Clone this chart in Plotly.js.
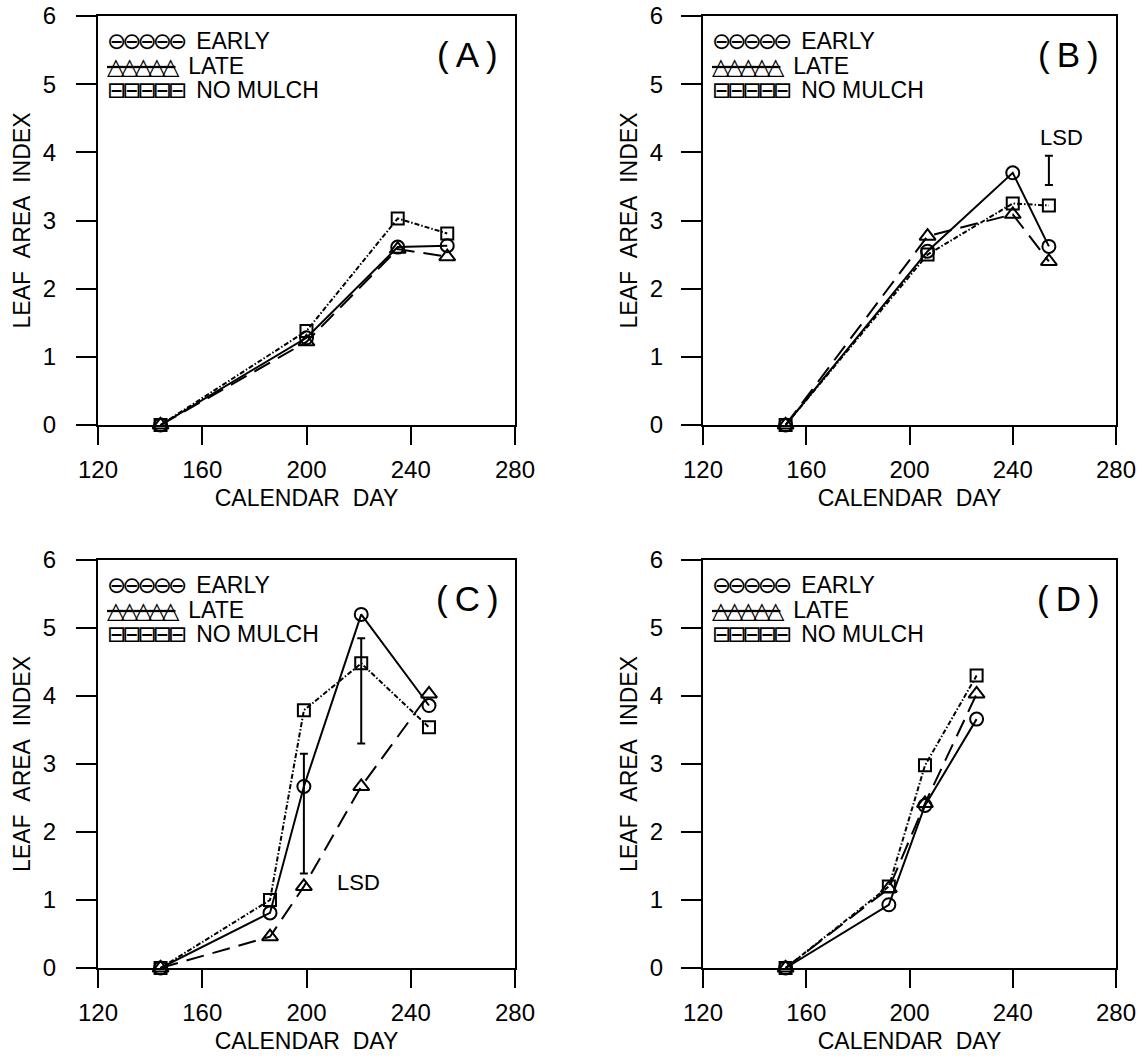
<!DOCTYPE html>
<html>
<head>
<meta charset="utf-8">
<script src="https://cdn.plot.ly/plotly-3.0.1.min.js"></script>
<style>
  html, body { margin: 0; padding: 0; background: #fff; }
  #chart { width: 1147px; height: 1059px; }
</style>
</head>
<body>
<div id="chart"></div>
<script>
// ---------------- DATA ----------------
const seriesNames = ['EARLY', 'LATE', 'NO MULCH'];
const xTicks = [120, 160, 200, 240, 280];
const yTicks = [0, 1, 2, 3, 4, 5, 6];
const panelLabels = ['(\u2009A\u2009)', '(\u2009B\u2009)', '(\u2009C\u2009)', '(\u2009D\u2009)'];

// Panel A
const daysA = [144, 200, 235, 254];
const earlyA = [0, 1.28, 2.61, 2.63];
const lateA = [0, 1.22, 2.58, 2.47];
const noMulchA = [0, 1.38, 3.03, 2.81];

// Panel B
const daysB = [152, 207, 240, 254];
const earlyB = [0, 2.55, 3.70, 2.62];
const lateB = [0, 2.77, 3.09, 2.40];
const noMulchB = [0, 2.50, 3.25, 3.22];
const lsdDayB = [254];
const lsdLowB = [3.52];
const lsdHighB = [3.95];

// Panel C
const daysC = [144, 186, 199, 221, 247];
const earlyC = [0, 0.81, 2.67, 5.20, 3.86];
const lateC = [0, 0.46, 1.20, 2.67, 4.03];
const noMulchC = [0, 1.00, 3.79, 4.48, 3.54];
const lsdDayC = [199, 221];
const lsdLowC = [1.39, 3.30];
const lsdHighC = [3.15, 4.85];

// Panel D
const daysD = [152, 192, 206, 226];
const earlyD = [0, 0.93, 2.39, 3.66];
const lateD = [0, 1.17, 2.42, 4.03];
const noMulchD = [0, 1.20, 2.98, 4.30];

// ---------------- BUILD ----------------
const FONT = 'Liberation Sans, Arial, Helvetica, sans-serif';
const panels = [
  {days: daysA, s: [earlyA, lateA, noMulchA], xa: 'x',  ya: 'y',  la: 'y5', lsd: null},
  {days: daysB, s: [earlyB, lateB, noMulchB], xa: 'x2', ya: 'y2', la: 'y6', lsd: {x: lsdDayB, lo: lsdLowB, hi: lsdHighB}},
  {days: daysC, s: [earlyC, lateC, noMulchC], xa: 'x3', ya: 'y3', la: 'y7', lsd: {x: lsdDayC, lo: lsdLowC, hi: lsdHighC}},
  {days: daysD, s: [earlyD, lateD, noMulchD], xa: 'x4', ya: 'y4', la: 'y8', lsd: null}
];
const styles = [
  {symbol: 'circle-open', dash: 'solid', size: 13},
  {symbol: 'triangle-up-open', dash: '18px,9px', size: 14},
  {symbol: 'square-open', dash: '5px,2px,1.5px,2px', size: 12}
];

const traces = [];
panels.forEach((p, pi) => {
  p.s.forEach((vals, si) => {
    traces.push({
      type: 'scatter', mode: 'lines+markers',
      x: p.days, y: vals, xaxis: p.xa, yaxis: p.ya,
      name: seriesNames[si], showlegend: false, cliponaxis: false,
      line: {color: '#000', width: 2, dash: styles[si].dash},
      marker: {symbol: styles[si].symbol, size: styles[si].size, color: '#000', line: {width: 2, color: '#000'}}
    });
  });
  if (p.lsd) {
    traces.push({
      type: 'scatter', mode: 'markers',
      x: p.lsd.x, y: p.lsd.lo, xaxis: p.xa, yaxis: p.ya,
      name: 'LSD', showlegend: false, cliponaxis: false,
      marker: {size: 1, color: 'rgba(0,0,0,0)'},
      error_y: {type: 'data', symmetric: false,
        array: p.lsd.hi.map((h, i) => h - p.lsd.lo[i]),
        arrayminus: p.lsd.lo.map(() => 0),
        color: '#000', thickness: 2, width: 4}
    });
  }
  // empty trace so the label axis gets drawn
  traces.push({type: 'scatter', mode: 'markers', x: [], y: [], xaxis: p.xa, yaxis: p.la,
    showlegend: false, hoverinfo: 'skip'});
});

const W = 1147, H = 1059;
const axL = 98, axR = 703;
const xDomL = [axL / W, 515 / W], xDomR = [axR / W, 1116 / W];
const yDomT = [(H - 425) / H, (H - 16) / H], yDomB = [(H - 968) / H, (H - 560) / H];

function xAxis(dom, anchor) {
  return {
    domain: dom, anchor: anchor, range: [120, 280], tickvals: xTicks,
    ticks: 'outside', ticklen: 18, tickwidth: 2, tickcolor: '#000',
    showline: true, linewidth: 2, linecolor: '#000', mirror: true,
    showgrid: false, zeroline: false, fixedrange: true,
    tickfont: {family: FONT, size: 24, color: '#000'}, ticklabelstandoff: 4,
    title: {text: 'CALENDAR\u00a0\u00a0DAY', font: {family: FONT, size: 23, color: '#000'}, standoff: 8}
  };
}
// frame axis: line + ticks, no labels
function yAxis(dom, anchor) {
  return {
    domain: dom, anchor: anchor, range: [0, 6], tickvals: yTicks,
    ticks: 'outside', ticklen: 20, tickwidth: 2, tickcolor: '#000',
    showline: true, linewidth: 2, linecolor: '#000', mirror: true,
    showgrid: false, zeroline: false, fixedrange: true,
    showticklabels: false
  };
}
// label axis: tick labels + title, set further left
function yLabelAxis(base, posPx) {
  return {
    overlaying: base, anchor: 'free', position: posPx / W, side: 'left',
    range: [0, 6], tickvals: yTicks, ticks: '', showline: false,
    showgrid: false, zeroline: false, fixedrange: true,
    tickfont: {family: FONT, size: 24, color: '#000'},
    title: {text: 'LEAF\u00a0\u00a0AREA\u00a0\u00a0INDEX', font: {family: FONT, size: 23, color: '#000'}, standoff: 4}
  };
}

const annotations = [];
const GS = 'font-family:DejaVu Sans;font-size:23px;letter-spacing:-4px';
const legendGlyphs = [
  '<span style="' + GS + '">\u2296\u2296\u2296\u2296\u2296</span>',
  '<span style="' + GS + '"><s>\u25B3\u25B3\u25B3\u25B3\u25B3</s></span>',
  '<span style="' + GS + '">\u229F\u229F\u229F\u229F\u229F</span>'
];
const legendY = [0.939, 0.878, 0.819];
const axIds = [['x', 'y'], ['x2', 'y2'], ['x3', 'y3'], ['x4', 'y4']];
axIds.forEach((a, pi) => {
  seriesNames.forEach((nm, si) => {
    annotations.push({
      xref: a[0] + ' domain', yref: a[1] + ' domain', x: 0.016, y: legendY[si],
      xanchor: 'left', yanchor: 'middle', showarrow: false,
      text: legendGlyphs[si] + '\u00a0\u00a0' + nm,
      font: {family: FONT, size: 23, color: '#000'}
    });
  });
  annotations.push({
    xref: a[0] + ' domain', yref: a[1] + ' domain', x: 0.885, y: 0.905,
    xanchor: 'center', yanchor: 'middle', showarrow: false,
    text: panelLabels[pi], font: {family: FONT, size: 35, color: '#000'}
  });
});
// LSD labels
annotations.push({xref: 'x2', yref: 'y2', x: 259, y: 4.22, text: 'LSD', showarrow: false,
  font: {family: FONT, size: 22, color: '#000'}});
annotations.push({xref: 'x3', yref: 'y3', x: 220, y: 1.25, text: 'LSD', showarrow: false,
  font: {family: FONT, size: 22, color: '#000'}});

const layout = {
  width: W, height: H,
  margin: {l: 0, r: 0, t: 0, b: 0},
  paper_bgcolor: '#fff', plot_bgcolor: '#fff',
  font: {family: FONT, color: '#000'},
  showlegend: false,
  xaxis: xAxis(xDomL, 'y'), yaxis: yAxis(yDomT, 'x'),
  xaxis2: xAxis(xDomR, 'y2'), yaxis2: yAxis(yDomT, 'x2'),
  xaxis3: xAxis(xDomL, 'y3'), yaxis3: yAxis(yDomB, 'x3'),
  xaxis4: xAxis(xDomR, 'y4'), yaxis4: yAxis(yDomB, 'x4'),
  yaxis5: yLabelAxis('y', axL - 42),
  yaxis6: yLabelAxis('y2', axR - 40),
  yaxis7: yLabelAxis('y3', axL - 42),
  yaxis8: yLabelAxis('y4', axR - 40),
  annotations: annotations
};

Plotly.newPlot('chart', traces, layout, {displayModeBar: false, staticPlot: true});
</script>
</body>
</html>
